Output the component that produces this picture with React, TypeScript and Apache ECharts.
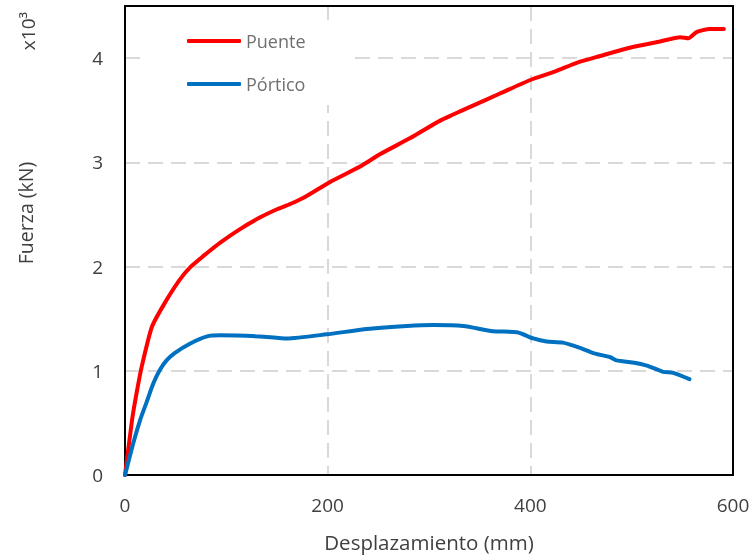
import React, { useEffect, useRef } from "react";
import * as echarts from "echarts";

const puenteX = [0, 7, 11.5, 16.5, 26.5, 38, 53, 64, 81, 94, 112, 133, 150, 163, 178, 202, 232, 252, 281, 311, 340, 370, 400, 424, 447, 469, 498, 528, 548, 556, 564, 577, 591];
const puenteY = [0, 0.53, 0.79, 1.04, 1.42, 1.63, 1.86, 1.99, 2.13, 2.23, 2.35, 2.47, 2.55, 2.6, 2.67, 2.81, 2.96, 3.08, 3.23, 3.4, 3.53, 3.66, 3.79, 3.87, 3.96, 4.02, 4.1, 4.16, 4.2, 4.19, 4.25, 4.28, 4.28];

const porticoX = [0, 8, 15, 21, 28, 34.5, 41, 49, 64, 81, 94, 133, 160, 199, 239, 278, 304, 334, 363, 387, 403, 416, 432, 449, 462, 479, 485, 501, 515, 531, 541, 557];
const porticoY = [0, 0.3, 0.53, 0.69, 0.88, 1.01, 1.1, 1.17, 1.26, 1.33, 1.34, 1.33, 1.31, 1.35, 1.4, 1.43, 1.44, 1.43, 1.38, 1.37, 1.31, 1.28, 1.27, 1.22, 1.17, 1.13, 1.1, 1.08, 1.05, 0.99, 0.98, 0.92];

const seriesNames = ["Puente", "Pórtico"];
const xTitle = "Desplazamiento (mm)";
const yTitle = "Fuerza (kN)";
const yScaleNote = "x10³";

const FONT = "'Open Sans'";

export default function App() {
  const ref = useRef<HTMLDivElement>(null);
  useEffect(() => {
    if (!ref.current) return;
    const chart = echarts.init(ref.current, undefined, { renderer: "svg" });
    const pair = (xs: number[], ys: number[]) => xs.map((x, i) => [x, ys[i]]);
    const gridLine = { show: true, showMinLine: false, showMaxLine: false, lineStyle: { color: "#d9d9d9", width: 2, type: [15, 8] } };
    chart.setOption({
      animation: false,
      textStyle: { fontFamily: FONT },
      grid: { left: 125, top: 6, right: 20, bottom: 82 },
      legend: {
        orient: "vertical",
        left: 141,
        top: 20,
        padding: [12, 47, 12, 46],
        backgroundColor: "#ffffff",
        itemGap: 25,
        itemWidth: 54,
        itemHeight: 4,
        icon: "roundRect",
        textStyle: { fontFamily: FONT, fontSize: 18, color: "#707070" },
        data: seriesNames,
      },
      xAxis: [
        {
          type: "value",
          min: 0,
          max: 600,
          interval: 200,
          axisLine: { show: true, lineStyle: { color: "#000", width: 2 } },
          axisTick: { show: false },
          axisLabel: { fontFamily: FONT, fontSize: 19, color: "#404040", margin: 20 },
          splitLine: gridLine,
          name: xTitle,
          nameLocation: "middle",
          nameGap: 56,
          nameTextStyle: { fontFamily: FONT, fontSize: 20.5, color: "#404040" },
        },
        {
          type: "value",
          position: "top",
          min: 0,
          max: 600,
          axisLine: { show: true, onZero: false, lineStyle: { color: "#000", width: 2 } },
          axisTick: { show: false },
          axisLabel: { show: false },
          splitLine: { show: false },
        },
      ],
      yAxis: [
        {
          type: "value",
          min: 0,
          max: 4.5,
          interval: 1,
          axisLine: { show: true, lineStyle: { color: "#000", width: 2 } },
          axisTick: { show: false },
          axisLabel: {
            fontFamily: FONT,
            fontSize: 19,
            color: "#404040",
            margin: 22,
            showMaxLabel: false,
          },
          splitLine: gridLine,
        },
        {
          type: "value",
          position: "right",
          min: 0,
          max: 4.5,
          axisLine: { show: true, onZero: false, lineStyle: { color: "#000", width: 2 } },
          axisTick: { show: false },
          axisLabel: { show: false },
          splitLine: { show: false },
        },
      ],
      graphic: [
        {
          type: "text",
          x: 25,
          y: 213,
          rotation: Math.PI / 2,
          style: { text: yTitle, fontFamily: FONT, fontSize: 19.5, fill: "#404040", align: "center", verticalAlign: "middle" },
        },
        {
          type: "text",
          x: 28,
          y: 31,
          rotation: Math.PI / 2,
          style: { text: yScaleNote, fontFamily: FONT, fontSize: 19, fill: "#404040", align: "center", verticalAlign: "middle" },
        },
      ],
      series: [
        {
          name: seriesNames[0],
          type: "line",
          data: pair(puenteX, puenteY),
          showSymbol: false,
          smooth: 0.2,
          lineStyle: { color: "#ff0000", width: 4, cap: "round", join: "round" },
          itemStyle: { color: "#ff0000" },
        },
        {
          name: seriesNames[1],
          type: "line",
          data: pair(porticoX, porticoY),
          showSymbol: false,
          smooth: 0.2,
          lineStyle: { color: "#0070c0", width: 4, cap: "round", join: "round" },
          itemStyle: { color: "#0070c0" },
        },
      ],
    });
    return () => chart.dispose();
  }, []);
  return <div ref={ref} style={{ position: "fixed", left: 0, top: 0, width: 753, height: 557 }} />;
}
